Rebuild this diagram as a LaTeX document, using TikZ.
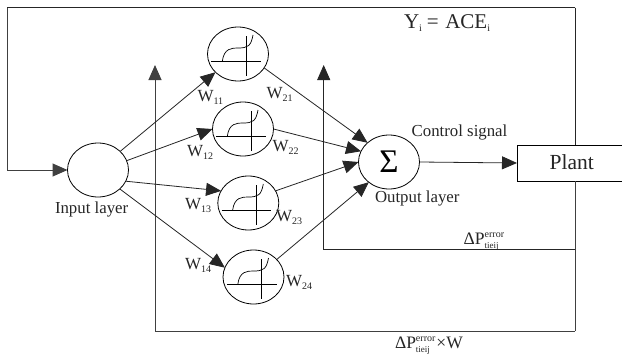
\documentclass[tikz,border=0pt]{standalone}
\usepackage{fontspec}
\setmainfont{Liberation Serif}
\usetikzlibrary{shapes.geometric,arrows.meta}
\newcommand{\fsz}[1]{\fontsize{#1}{#1}\selectfont}
\newcommand{\wlab}[1]{{\fsz{17}W}{\fsz{10}\raisebox{-3pt}{#1}}}
\newcommand{\dperr}{{\fsz{17.5}ΔP}\rlap{\fsz{9}\raisebox{-4pt}{tieij}}{\fsz{10}\raisebox{7pt}{error}}}
\tikzset{
  every node/.style={inner sep=0pt,outer sep=0pt},
  neuron/.style={draw,ellipse,minimum width=61pt,minimum height=54pt,line width=0.8pt},
  lab/.style={anchor=base west,text=black!85},
  wire/.style={line width=0.8pt,draw=black!85},
  fb/.style={line width=1pt,draw=black!75},
  arr/.style={wire,-{Triangle[length=15pt,width=13pt]}},
  fbarr/.style={fb,-{Triangle[length=15pt,width=13pt]}},
  curveglyph/.pic={
    \draw[line width=0.8pt] (-26.7,7.3) -- (23,7.3);
    \draw[line width=0.8pt] (8,-18) -- (8,22);
    \draw[line width=0.7pt] (-15.7,7.3) .. controls (-14,-6) and (-6,-6) .. (0,-6)
       .. controls (10,-6) and (13,-8) .. (15,-19);
  }
}
\begin{document}
\begin{tikzpicture}[x=1pt,y=-1pt]
\useasboundingbox (0,0) rectangle (622,356);
\fill[white] (0,0) rectangle (622,356);
% nodes
\node[neuron] (in) at (98,170) {};
\node[neuron] (n1) at (238,54) {};
\node[neuron] (n2) at (243,129) {};
\node[neuron] (n3) at (248.3,203) {};
\node[neuron] (n4) at (253.5,277) {};
\node[neuron] (sum) at (389,162) {\fsz{33}Σ};
\node[draw,line width=0.8pt,minimum width=110pt,minimum height=36pt,anchor=north west] (plant) at (517,145) {};
\node[anchor=base,font=\fsz{21.5},text=black!85] (plantlab) at (571.8,169) {Plant};
\pic at (n1.center) {curveglyph};
\pic at (n2.center) {curveglyph};
\pic at (n3.center) {curveglyph};
\pic at (n4.center) {curveglyph};
% free ends
\coordinate (tl) at (7,7.5);
\coordinate (tr) at (575,7.5);
\coordinate (bl) at (7,170);
\coordinate (br) at (575,331);
\coordinate (b1) at (155,331);
\coordinate (t1) at (155,65);
\coordinate (m2) at (575,249.5);
\coordinate (b2) at (323.7,249.5);
\coordinate (t2) at (323.7,65);
% feedback
\draw[wire] (tr) -- (tl);
\draw[fb] (tl) -- (bl);
\draw[fbarr] (bl) -- (in.west);
\draw[wire] (tr) -- (tr |- plant.north);
\draw[fb] (br |- plant.south) -- (br);
\draw[fbarr] (br) -- (b1) -- (t1);
\draw[arr] (m2) -- (b2) -- (t2);
% connections
\draw[arr] (in.40) -- (n1.219);
\draw[arr] (in.18) -- (n2.180);
\draw[arr] (in.-22) -- (n3.156);
\draw[arr] (in.-41) -- (n4.162);
\draw[arr] (n1.-28) -- (sum.138);
\draw[arr] (n2.0) -- (sum.159);
\draw[arr] (n3.24) -- (sum.180);
\draw[arr] (n4.37) -- (sum.225);
\draw[arr] (sum.east) -- (plant.west);
% labels
\node[lab] (w11) at (197.5,101.5) {\wlab{11}};
\node[lab] (w21) at (266.7,98) {\wlab{21}};
\node[lab] (w12) at (187,156) {\wlab{12}};
\node[lab] (w22) at (272.7,151.7) {\wlab{22}};
\node[lab] (w13) at (185,209) {\wlab{13}};
\node[lab] (w23) at (276,221) {\wlab{23}};
\node[lab] (w14) at (185,269.7) {\wlab{14}};
\node[lab] (w24) at (286,286) {\wlab{24}};
\node[lab] (yi) at (404,28.3) {{\fsz{21}Y}{\fsz{10}\raisebox{-3pt}{i}}\kern5pt{\fsz{21}=\kern6.5pt ACE}{\fsz{10}\raisebox{-3pt}{i}}};
\node[lab,font=\fsz{16.8}] (ctl) at (411.7,136) {Control signal};
\node[lab,font=\fsz{16.8}] (inl) at (55,213) {Input layer};
\node[lab,font=\fsz{16.8}] (outl) at (375,202) {Output layer};
\node[lab] (dp1) at (463.7,244) {\dperr};
\node[lab] (dp2) at (395,348) {\dperr\kern1pt{\fsz{17.5}×W}};
\end{tikzpicture}
\end{document}
